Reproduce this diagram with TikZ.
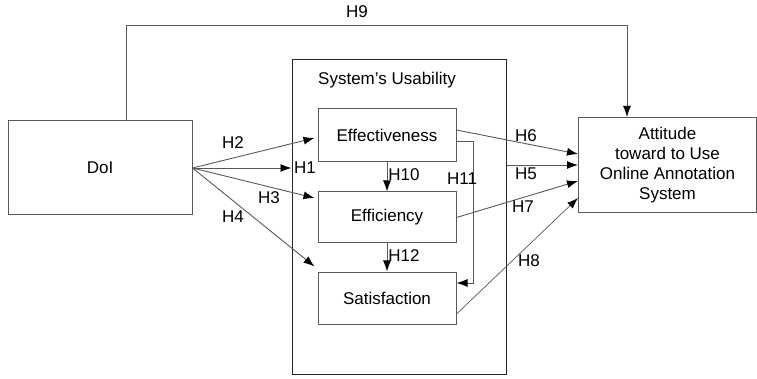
\documentclass[tikz,border=0pt]{standalone}
\usepackage{fontspec}
\setmainfont{Liberation Sans}
\usetikzlibrary{arrows.meta,positioning,calc}
\begin{document}
\begin{tikzpicture}[x=1pt,y=-1pt,
  font=\fontsize{17pt}{20pt}\selectfont,
  box/.style={draw=black!65,line width=1pt,inner sep=0pt,align=center},
  link/.style={draw=black!65,line width=0.9pt,-{Latex[length=11pt,width=8pt,color=black]}},
  hyp/.style={inner sep=1pt}]
\useasboundingbox (0,0) rectangle (757,379);

% constructs
\node[box,minimum width=184pt,minimum height=94pt] (doi) at (100,168) {DoI};
\node[box,minimum width=178pt,minimum height=95pt] (att) at (667.5,165)
  {Attitude\\toward to Use\\Online Annotation\\System};
\node[box,minimum width=214pt,minimum height=314pt,draw=black!85] (usab) at (399,217) {};
\node (usabtitle) at (387,80) {System\symbol{39}s Usability};
\node[box,minimum width=138pt,minimum height=53pt] (effe) at (387,135.5) {Effectiveness};
\node[box,minimum width=138pt,minimum height=51pt] (effi) at (387,217.5) {Efficiency};
\node[box,minimum width=138pt,minimum height=52pt] (sat) at (387,298) {Satisfaction};

% helper points
\coordinate (top) at (0,25);
\coordinate (h9a) at ([xshift=26pt]doi.north);
\coordinate (h9b) at ([xshift=-40.5pt]att.north);
\coordinate (h11a) at ([yshift=-6pt]effe.east);
\coordinate (h11b) at ([yshift=15pt]sat.east);
\coordinate (h11x) at (473,0);

% paths from DoI
\draw[link] (doi.east) -- ([xshift=-3pt,yshift=-2.5pt]effe.west);
\draw[link] (doi.east) -- (usab.west |- doi.east);
\draw[link] (doi.east) -- ([xshift=-3pt,yshift=19.5pt]effi.west);
\draw[link] (doi.east) -- ([shift={(-3pt,5pt)}]sat.north west);
\draw[link] (h9a) -- (h9a |- top) -| (h9b);

% paths within usability
\draw[link] (effe.south) -- (effi.north);
\draw[link] (effi.south) -- (sat.north);
\draw[link] (h11a) -- (h11x |- h11a) -- (h11x |- h11b) -- (h11b);

% paths to attitude
\draw[link] ([yshift=5.5pt]effe.east) -- ([yshift=11pt]att.west);
\draw[link] (usab.east |- att.west) -- (att.west);
\draw[link] (effi.east) -- ([yshift=-16pt]att.west);
\draw[link,line width=0.7pt] ([yshift=-16pt]sat.east) -- ([yshift=-33pt]att.west);

% hypothesis labels
\node[hyp] (h1) at (305,168) {H1};
\node[hyp] (h2) at (233,143) {H2};
\node[hyp] (h3) at (269,198) {H3};
\node[hyp] (h4) at (233,217) {H4};
\node[hyp] (h5) at (526,174) {H5};
\node[hyp] (h6) at (526,136) {H6};
\node[hyp] (h7) at (523,207) {H7};
\node[hyp] (h8) at (529,261) {H8};
\node[hyp] (h9) at (357,12) {H9};
\node[hyp] (h10) at (404,175) {H10};
\node[hyp] (h11) at (462,179) {H11};
\node[hyp] (h12) at (404,256) {H12};
\end{tikzpicture}
\end{document}
